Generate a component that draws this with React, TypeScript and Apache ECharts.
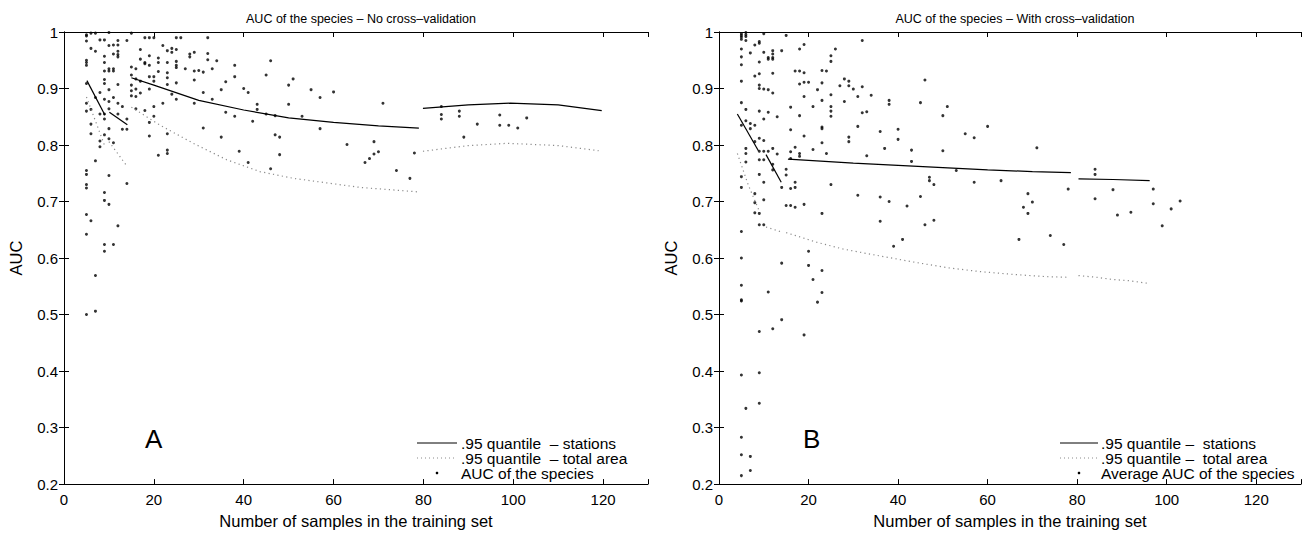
import React, { useEffect, useRef } from "react";
import * as echarts from "echarts";

// ---- axis settings ----
const xAxisMin = 0;
const xAxisMax = 130;
const xAxisStep = 20;
const yAxisMin = 0.2;
const yAxisMax = 1;
const yAxisStep = 0.1;

const leftTitle = "AUC of the species \u2013 No cross\u2013validation";
const rightTitle = "AUC of the species \u2013 With cross\u2013validation";
const xAxisTitle = "Number of samples in the training set";
const yAxisTitle = "AUC";
const leftLegend = [".95 quantile  \u2013 stations", ".95 quantile  \u2013 total area", "AUC of the species"];
const rightLegend = [".95 quantile \u2013  stations", ".95 quantile \u2013  total area", "Average AUC of the species"];

// ---- Panel A: no cross-validation ----
const leftSpeciesAUC: [number, number][] = [
  [5, 0.995], [5, 0.993], [5, 0.984], [5, 0.95], [5, 0.946], [5, 0.941], [5, 0.909], [5, 0.874], [5, 0.86],
  [5, 0.755], [5, 0.748], [5, 0.73], [5, 0.724], [5, 0.677], [5, 0.642], [5, 0.5],
  [6, 0.998], [6, 0.971], [6, 0.863], [6, 0.837], [6, 0.82], [6, 0.666],
  [7, 0.998], [7, 0.966], [7, 0.884], [7, 0.772], [7, 0.569], [7, 0.506],
  [8, 0.986], [8, 0.893], [8, 0.855], [8, 0.807], [8, 0.797],
  [9, 0.986], [9, 0.957], [9, 0.946], [9, 0.931], [9, 0.916], [9, 0.909], [9, 0.881], [9, 0.855], [9, 0.846],
  [9, 0.818], [9, 0.716], [9, 0.702], [9, 0.624], [9, 0.612],
  [10, 0.999], [10, 0.976], [10, 0.935], [10, 0.931], [10, 0.898], [10, 0.877], [10, 0.864], [10, 0.829],
  [10, 0.811], [10, 0.746], [10, 0.695],
  [11, 0.977], [11, 0.961], [11, 0.935], [11, 0.931], [11, 0.884], [11, 0.804], [11, 0.624],
  [12, 0.985], [12, 0.977], [12, 0.966], [12, 0.96], [12, 0.956], [12, 0.907], [12, 0.874], [12, 0.855], [12, 0.657],
  [13, 0.868], [13, 0.828],
  [14, 0.985], [14, 0.846], [14, 0.828], [14, 0.732],
  [15, 0.998], [15, 0.938], [15, 0.924], [15, 0.906], [15, 0.896], [15, 0.887],
  [16, 0.935], [16, 0.917], [16, 0.899], [16, 0.886], [16, 0.864],
  [17, 0.969], [17, 0.952], [17, 0.913], [17, 0.892],
  [18, 0.99], [18, 0.946], [18, 0.944], [18, 0.861],
  [19, 0.99], [19, 0.958], [19, 0.941], [19, 0.921], [19, 0.899], [19, 0.84], [19, 0.816],
  [20, 0.99], [20, 0.921], [20, 0.913], [20, 0.868], [20, 0.851],
  [21, 0.954], [21, 0.946], [21, 0.93], [21, 0.782],
  [22, 0.976], [22, 0.874],
  [23, 0.967], [23, 0.946], [23, 0.928], [23, 0.919], [23, 0.907], [23, 0.82], [23, 0.791], [23, 0.785],
  [24, 0.971], [24, 0.964], [24, 0.89],
  [25, 0.99], [25, 0.969], [25, 0.948], [25, 0.941], [25, 0.937], [25, 0.91], [25, 0.881],
  [26, 0.99], [27, 0.935], [28, 0.961], [28, 0.956],
  [29, 0.964], [29, 0.931], [29, 0.915], [29, 0.874], [30, 0.932], [31, 0.929], [31, 0.893], [31, 0.83],
  [32, 0.99], [32, 0.962], [32, 0.951], [33, 0.935], [33, 0.881], [34, 0.949],
  [35, 0.898], [35, 0.814], [36, 0.912], [36, 0.858], [38, 0.941], [38, 0.921], [38, 0.851],
  [39, 0.789], [40, 0.9], [41, 0.893], [41, 0.769], [42, 0.842], [43, 0.872], [43, 0.863],
  [45, 0.924], [45, 0.855], [46, 0.949], [46, 0.758], [47, 0.852], [47, 0.818], [48, 0.814], [48, 0.783],
  [50, 0.906], [50, 0.872], [51, 0.917], [53, 0.851], [55, 0.898], [57, 0.884], [57, 0.829],
  [60, 0.894], [63, 0.801],
  [67, 0.769], [68, 0.776], [69, 0.806], [69, 0.784], [70, 0.788], [71, 0.874], [74, 0.755], [77, 0.741], [78, 0.786],
  [84, 0.868], [84, 0.854], [84, 0.846], [88, 0.86], [88, 0.851], [89, 0.814], [92, 0.837],
  [97, 0.853], [97, 0.835], [99, 0.835], [101, 0.83], [103, 0.848],
];
const leftStations1: [number, number][] = [[5.1, 0.914], [9.1, 0.853]];
const leftStations2: [number, number][] = [[10.1, 0.858], [14.1, 0.836]];
const leftStations3: [number, number][] = [
  [15, 0.919], [20, 0.906], [30, 0.879], [40, 0.862], [50, 0.848], [60, 0.84], [70, 0.834], [79, 0.83],
];
const leftStations4: [number, number][] = [
  [79.9, 0.865], [90, 0.871], [99.3, 0.874], [110, 0.871], [119.7, 0.861],
];
const leftArea1: [number, number][] = [[5, 0.885], [9, 0.8]];
const leftArea2: [number, number][] = [[10, 0.806], [13.8, 0.765]];
const leftArea3: [number, number][] = [
  [15, 0.867], [21.4, 0.835], [28.8, 0.803], [36.2, 0.774], [43.6, 0.753], [51.1, 0.741], [58.5, 0.733],
  [65.9, 0.725], [79, 0.717],
];
const leftArea4: [number, number][] = [
  [79.9, 0.789], [90, 0.799], [98.6, 0.803], [110, 0.799], [119, 0.79],
];

// ---- Panel B: with cross-validation ----
const rightSpeciesAUC: [number, number][] = [
  [5, 0.997], [5, 0.994], [5, 0.991], [5, 0.987], [5, 0.97], [5, 0.956], [5, 0.942], [5, 0.913], [5, 0.875],
  [5, 0.835], [5, 0.744], [5, 0.725], [5, 0.647], [5, 0.6], [5, 0.552], [5, 0.526], [5, 0.524], [5, 0.393],
  [5, 0.283], [5, 0.252], [5, 0.215],
  [6, 0.999], [6, 0.995], [6, 0.992], [6, 0.985], [6, 0.863], [6, 0.843], [6, 0.794], [6, 0.785], [6, 0.77], [6, 0.334],
  [7, 0.963], [7, 0.838], [7, 0.829], [7, 0.249], [7, 0.224],
  [8, 0.977], [8, 0.922], [8, 0.835], [8, 0.806], [8, 0.714], [8, 0.698], [8, 0.68],
  [9, 0.983], [9, 0.98], [9, 0.947], [9, 0.926], [9, 0.906], [9, 0.9], [9, 0.86], [9, 0.812], [9, 0.789],
  [9, 0.774], [9, 0.748], [9, 0.679], [9, 0.659], [9, 0.47], [9, 0.397], [9, 0.343],
  [10, 0.997], [10, 0.964], [10, 0.899], [10, 0.846], [10, 0.808], [10, 0.789], [10, 0.774], [10, 0.734],
  [10, 0.703], [10, 0.659],
  [11, 0.955], [11, 0.952], [11, 0.898], [11, 0.858], [11, 0.789], [11, 0.54],
  [12, 0.967], [12, 0.961], [12, 0.955], [12, 0.952], [12, 0.927], [12, 0.892], [12, 0.794], [12, 0.766],
  [12, 0.756], [12, 0.475],
  [13, 0.85], [13, 0.784],
  [14, 0.967], [14, 0.725], [14, 0.591], [14, 0.491],
  [15, 0.994], [15, 0.757], [15, 0.747], [15, 0.693],
  [16, 0.867], [16, 0.827], [16, 0.788], [16, 0.776], [16, 0.723], [16, 0.693],
  [17, 0.931], [17, 0.796], [17, 0.734], [17, 0.725], [17, 0.69],
  [18, 0.97], [18, 0.931], [18, 0.908], [18, 0.852], [18, 0.785], [18, 0.78],
  [19, 0.978], [19, 0.928], [19, 0.911], [19, 0.886], [19, 0.816], [19, 0.695], [19, 0.464],
  [20, 0.911], [20, 0.612], [20, 0.587],
  [21, 0.868], [21, 0.792], [21, 0.562],
  [22, 0.898], [22, 0.522],
  [23, 0.932], [23, 0.91], [23, 0.879], [23, 0.832], [23, 0.829], [23, 0.804], [23, 0.679], [23, 0.578], [23, 0.539],
  [24, 0.931], [24, 0.785],
  [25, 0.958], [25, 0.948], [25, 0.889], [25, 0.868], [25, 0.86], [25, 0.851], [25, 0.73],
  [26, 0.97], [27, 0.905], [28, 0.917], [28, 0.877],
  [29, 0.913], [29, 0.905], [29, 0.814], [29, 0.806], [30, 0.899],
  [31, 0.886], [31, 0.833], [31, 0.711], [32, 0.985], [32, 0.903], [32, 0.857],
  [33, 0.859], [33, 0.781], [34, 0.888],
  [36, 0.824], [36, 0.708], [36, 0.665], [37, 0.794], [38, 0.879], [38, 0.872], [38, 0.7],
  [39, 0.621], [40, 0.828], [40, 0.81], [41, 0.633], [42, 0.692], [43, 0.791], [43, 0.771],
  [45, 0.875], [45, 0.709], [46, 0.915], [46, 0.659], [47, 0.743], [47, 0.737], [48, 0.73], [48, 0.667],
  [50, 0.852], [50, 0.79], [51, 0.868], [53, 0.755], [55, 0.82], [57, 0.813], [57, 0.734], [60, 0.833],
  [63, 0.737], [67, 0.633], [68, 0.69], [69, 0.714], [69, 0.679], [70, 0.699], [71, 0.795], [74, 0.64],
  [77, 0.624], [78, 0.722], [84, 0.757], [84, 0.748], [84, 0.705], [88, 0.721], [89, 0.676], [92, 0.681],
  [97, 0.722], [97, 0.696], [99, 0.657], [101, 0.687], [103, 0.701],
];
const rightStations1: [number, number][] = [[4.1, 0.855], [8.8, 0.79]];
const rightStations2: [number, number][] = [[10.5, 0.783], [13.9, 0.734]];
const rightStations3: [number, number][] = [
  [15.4, 0.775], [20, 0.773], [30, 0.768], [40, 0.764], [50, 0.76], [60, 0.756], [70, 0.753], [78.6, 0.751],
];
const rightStations4: [number, number][] = [[80.3, 0.74], [88, 0.739], [96.2, 0.737]];
const rightArea1: [number, number][] = [[4.1, 0.785], [6.5, 0.73], [8.9, 0.685]];
const rightArea2: [number, number][] = [[10.5, 0.655], [14, 0.646]];
const rightArea3: [number, number][] = [
  [15, 0.645], [21.8, 0.628], [27.7, 0.616], [33.7, 0.607], [43.4, 0.593], [50.9, 0.583], [58.3, 0.576],
  [65.8, 0.571], [73.2, 0.567], [77.8, 0.566],
];
const rightArea4: [number, number][] = [[80.3, 0.569], [84.3, 0.566], [88, 0.562], [91.5, 0.56], [96, 0.555]];

const FONT = "'Liberation Sans', Arial, Helvetica, sans-serif";

const GRID_TOP = 32;
const GRID_H = 458;
const LEFT_X0 = 64;
const LEFT_W = 584;
const RIGHT_X0 = 719;
const RIGHT_W = 582;

export default function App() {
  const ref = useRef<HTMLDivElement>(null);

  useEffect(() => {
    if (!ref.current) return;
    const chart = echarts.init(ref.current, undefined, { renderer: "svg" });

    const axisLine = { show: true, lineStyle: { color: "#000", width: 1 } };
    const tick = { show: true, inside: true, length: 5, lineStyle: { color: "#000", width: 1 } };
    const labelStyle = { color: "#000", fontSize: 15, fontFamily: FONT };

    const mkX = (gridIndex: number, pos: "bottom" | "top") => ({
      type: "value",
      gridIndex,
      position: pos,
      min: xAxisMin,
      max: xAxisMax,
      interval: xAxisStep,
      axisLine,
      axisTick: tick,
      splitLine: { show: false },
      axisLabel:
        pos === "bottom"
          ? { ...labelStyle, margin: 8, formatter: (v: number) => (v > 120 ? "" : String(v)) }
          : { show: false },
      name: pos === "bottom" ? xAxisTitle : "",
      nameLocation: "middle",
      nameGap: 26,
      nameTextStyle: { color: "#000", fontSize: 16.5, fontFamily: FONT },
    });
    const mkY = (gridIndex: number, pos: "left" | "right") => ({
      type: "value",
      gridIndex,
      position: pos,
      min: yAxisMin,
      max: yAxisMax,
      interval: yAxisStep,
      axisLine,
      axisTick: tick,
      splitLine: { show: false },
      axisLabel:
        pos === "left"
          ? { ...labelStyle, margin: 6, formatter: (v: number) => String(Math.round(v * 10) / 10) }
          : { show: false },
      name: pos === "left" ? yAxisTitle : "",
      nameLocation: "middle",
      nameGap: 40,
      nameRotate: 90,
      nameTextStyle: { color: "#000", fontSize: 16.5, fontFamily: FONT },
    });

    const solid = (data: [number, number][], ax: number) => ({
      type: "line",
      xAxisIndex: ax,
      yAxisIndex: ax,
      data,
      showSymbol: false,
      symbol: "none",
      lineStyle: { color: "#000", width: 1.2, type: "solid" },
      silent: true,
    });
    const dotted = (data: [number, number][], ax: number) => ({
      type: "line",
      xAxisIndex: ax,
      yAxisIndex: ax,
      data,
      showSymbol: false,
      symbol: "none",
      lineStyle: { color: "#8a8a8a", width: 1.2, type: [1.2, 3.3] },
      silent: true,
    });
    const dots = (data: [number, number][], ax: number) => ({
      type: "scatter",
      xAxisIndex: ax,
      yAxisIndex: ax,
      data,
      symbol: "circle",
      symbolSize: 3,
      itemStyle: { color: "#000" },
      silent: true,
    });

    const legendText = (x: number, y: number, text: string) => ({
      type: "text",
      x,
      y,
      style: { text, fill: "#000", font: `15.5px ${FONT}`, textVerticalAlign: "middle", verticalAlign: "middle" },
    });

    const legend = (lx1: number, lx2: number, tx: number, y0: number, texts: string[]) => [
      { type: "line", shape: { x1: lx1, y1: y0, x2: lx2, y2: y0 }, style: { stroke: "#000", lineWidth: 1 } },
      {
        type: "line",
        shape: { x1: lx1, y1: y0 + 15, x2: lx2, y2: y0 + 15 },
        style: { stroke: "#8a8a8a", lineWidth: 1, lineDash: [1, 3] },
      },
      { type: "circle", shape: { cx: (lx1 + lx2) / 2, cy: y0 + 30, r: 1.3 }, style: { fill: "#000" } },
      legendText(tx, y0, texts[0]),
      legendText(tx, y0 + 15, texts[1]),
      legendText(tx, y0 + 30, texts[2]),
    ];

    chart.setOption({
      animation: false,
      backgroundColor: "#fff",
      title: [
        {
          text: leftTitle,
          left: LEFT_X0 + LEFT_W / 2,
          top: 7,
          textAlign: "center",
          textStyle: { color: "#000", fontSize: 12.5, fontWeight: "normal", fontFamily: FONT },
        },
        {
          text: rightTitle,
          left: RIGHT_X0 + RIGHT_W / 2,
          top: 7,
          textAlign: "center",
          textStyle: { color: "#000", fontSize: 12.5, fontWeight: "normal", fontFamily: FONT },
        },
      ],
      grid: [
        { left: LEFT_X0, top: GRID_TOP, width: LEFT_W, height: GRID_H },
        { left: RIGHT_X0, top: GRID_TOP, width: RIGHT_W, height: GRID_H },
      ],
      xAxis: [mkX(0, "bottom"), mkX(0, "top"), mkX(1, "bottom"), mkX(1, "top")],
      yAxis: [mkY(0, "left"), mkY(0, "right"), mkY(1, "left"), mkY(1, "right")],
      series: [
        solid(leftStations1, 0),
        solid(leftStations2, 0),
        solid(leftStations3, 0),
        solid(leftStations4, 0),
        dotted(leftArea1, 0),
        dotted(leftArea2, 0),
        dotted(leftArea3, 0),
        dotted(leftArea4, 0),
        dots(leftSpeciesAUC, 0),
        solid(rightStations1, 2),
        solid(rightStations2, 2),
        solid(rightStations3, 2),
        solid(rightStations4, 2),
        dotted(rightArea1, 2),
        dotted(rightArea2, 2),
        dotted(rightArea3, 2),
        dotted(rightArea4, 2),
        dots(rightSpeciesAUC, 2),
      ],
      graphic: [
        {
          type: "text",
          x: 145,
          y: 426,
          style: { text: "A", fill: "#000", font: `26px ${FONT}` },
        },
        {
          type: "text",
          x: 803,
          y: 426,
          style: { text: "B", fill: "#000", font: `26px ${FONT}` },
        },
        ...legend(417, 457, 461, 443, leftLegend),
        ...legend(1060, 1098, 1101, 443, rightLegend),
      ],
    });

    return () => chart.dispose();
  }, []);

  return (
    <div
      ref={ref}
      style={{ position: "fixed", left: 0, top: 0, width: 1311, height: 534, background: "#fff" }}
    />
  );
}
